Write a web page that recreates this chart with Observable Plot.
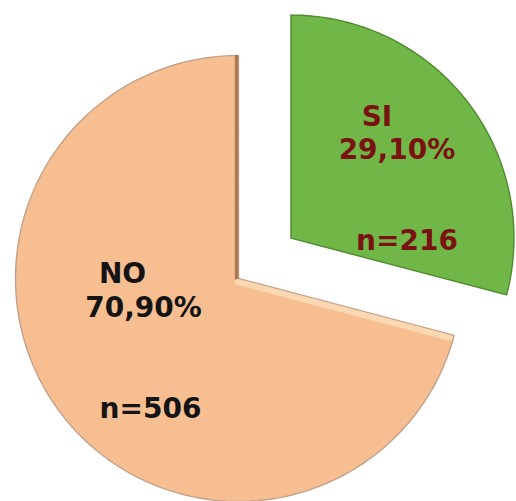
<!DOCTYPE html>
<html>
<head>
<meta charset="utf-8">
<script src="https://cdn.jsdelivr.net/npm/d3@7"></script>
<script src="https://cdn.jsdelivr.net/npm/@observablehq/plot@0.6"></script>
<style>
  html, body { margin: 0; padding: 0; background: #ffffff; }
  #chart svg { display: block; }
</style>
</head>
<body>
<div id="chart"></div>
<script>
// ---- data ----
const labels = ["SI", "NO"];
const percents = [29.10, 70.90];
const counts = [216, 506];
const fills = ["#71B747", "#F7BF91"];
const strokes = ["#4E8A2E", "#C3A189"];
const textColors = ["#7A1212", "#141414"];

// ---- geometry (unit radius) ----
const W = 516, H = 501, R = 223, CX = 238, CY = 278;
const explode = [0.297, 0];
const pie = d3.pie().sort(null).value(d => d)(percents);
const N = 120;
const slices = [];
const offsets = pie.map((p, i) => {
  const mid = (p.startAngle + p.endAngle) / 2;
  return {mid, ox: explode[i] * Math.sin(mid), oy: explode[i] * Math.cos(mid)};
});
pie.forEach((p, i) => {
  const {ox, oy} = offsets[i];
  slices.push({k: labels[i], x: ox, y: oy});
  for (let j = 0; j <= N; j++) {
    const a = p.startAngle + (p.endAngle - p.startAngle) * j / N;
    slices.push({k: labels[i], x: ox + Math.sin(a), y: oy + Math.cos(a)});
  }
  slices.push({k: labels[i], x: ox, y: oy});
});

// bevel edges of the large slice (radial edges)
const px = 1 / R;
const noP = pie[1];
const a0 = noP.startAngle; // lower radial edge
const dark = [{x: -2 * px, y: 0}, {x: -2 * px, y: 0.995}];
const nrm = {x: Math.cos(a0) * 3.5 * px, y: -Math.sin(a0) * 3.5 * px};
const light = [
  {x: nrm.x, y: nrm.y},
  {x: 0.985 * Math.sin(a0) + nrm.x, y: 0.985 * Math.cos(a0) + nrm.y}
];

// ---- labels ----
const fmtPct = v => v.toFixed(2).replace(".", ",") + "%";
const layout = [
  [{dx: -20, dy: -30}, {dx: 0, dy: 3}, {dx: 10, dy: 94}],
  [{dx: -10, dy: -77}, {dx: 11, dy: -43}, {dx: 18, dy: 58}]
];
const texts = [];
pie.forEach((p, i) => {
  const {mid, ox, oy} = offsets[i];
  const x = ox + 0.6 * Math.sin(mid), y = oy + 0.6 * Math.cos(mid);
  const lines = [labels[i], fmtPct(percents[i]), "n=" + counts[i]];
  lines.forEach((t, j) => texts.push({t, x, y, c: textColors[i], ...layout[i][j]}));
});

const textMarks = texts.map(d => Plot.text([d], {
  x: "x", y: "y", text: "t", fill: d.c, dx: d.dx, dy: d.dy,
  textAnchor: "middle", lineAnchor: "bottom",
  fontSize: 28, fontWeight: "bold", fontFamily: "'DejaVu Sans', sans-serif"
}));

const chart = Plot.plot({
  width: W, height: H,
  margin: 0,
  x: {domain: [-CX / R, (W - CX) / R], range: [0, W], axis: null},
  y: {domain: [-(H - CY) / R, CY / R], range: [H, 0], axis: null},
  marks: [
    Plot.line(slices, {x: "x", y: "y", z: "k", fill: d => d.k === "SI" ? fills[0] : fills[1],
      stroke: d => d.k === "SI" ? strokes[0] : strokes[1], strokeWidth: 1.4, curve: "linear"}),
    Plot.line(dark, {x: "x", y: "y", stroke: "#9A6644", strokeWidth: 3.5, strokeOpacity: 0.8}),
    Plot.line(light, {x: "x", y: "y", stroke: "#FCE0BC", strokeWidth: 6, strokeOpacity: 0.75}),
    ...textMarks
  ]
});
document.getElementById("chart").append(chart);
</script>
</body>
</html>
